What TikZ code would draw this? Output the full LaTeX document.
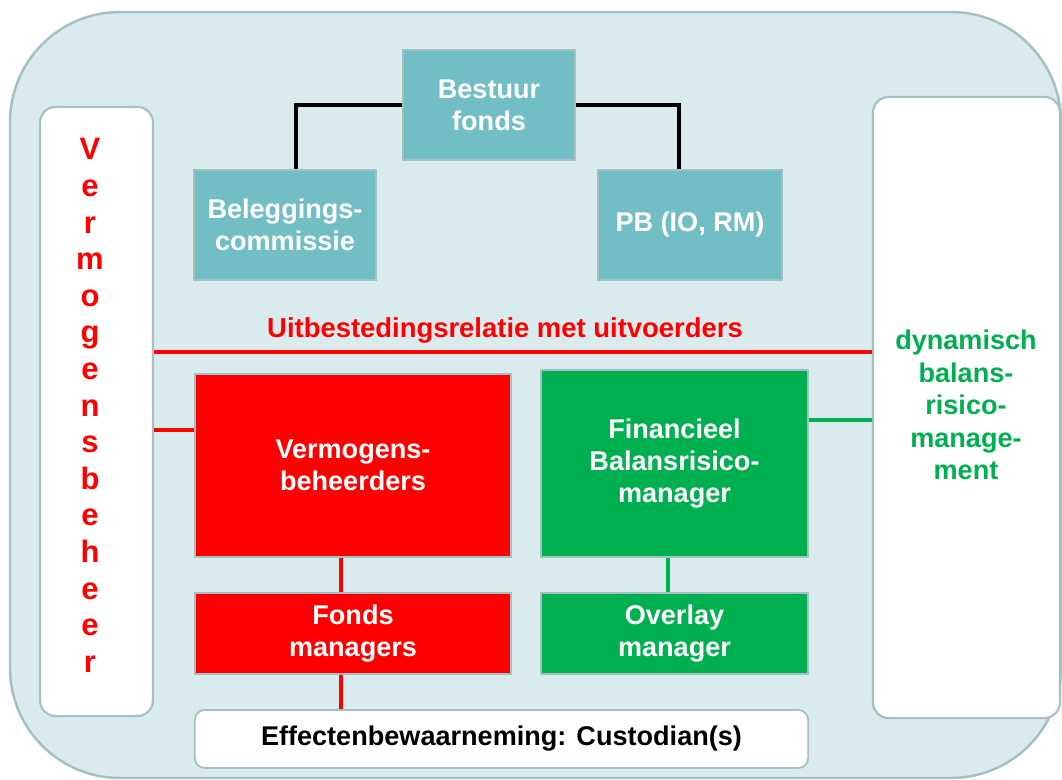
\documentclass[tikz,border=0pt]{standalone}
\usepackage{fontspec}
\setmainfont{Liberation Sans}
\usetikzlibrary{positioning}
\definecolor{bgblue}{HTML}{DAEBEE}
\definecolor{edgegray}{HTML}{A3C0C4}
\definecolor{boxteal}{HTML}{72BEC5}
\definecolor{mgreen}{HTML}{00B050}
\definecolor{mred}{HTML}{FF0000}
\begin{document}
\begin{tikzpicture}[x=0.01cm, y=-0.01cm,
  box/.style={draw=edgegray, line width=0.5pt, text=white, align=center, inner sep=0pt,
    font=\bfseries\fontsize{7.7}{9.1}\selectfont},
  govbox/.style={box, fill=boxteal, minimum height=1.1cm},
  redbox/.style={box, fill=mred, minimum width=3.16cm},
  greenbox/.style={box, fill=mgreen, minimum width=2.67cm},
  sidebox/.style={draw=edgegray, line width=0.6pt, fill=white, rounded corners=1.6mm},
  vletter/.style={text=mred, anchor=base, inner sep=0pt, font=\bfseries\fontsize{8.8}{10}\selectfont},
  govline/.style={line width=1pt, black},
  redline/.style={line width=0.9pt, mred},
  greenline/.style={line width=0.9pt, mgreen}]
\useasboundingbox (0,0) rectangle (1062,780);
\draw[draw=edgegray, line width=0.7pt, fill=bgblue, rounded corners=1.1cm] (10,12) rectangle (1061,778);

% side panels
\node[sidebox, minimum width=1.13cm, minimum height=6.09cm] (lbox) at (96.5,411.5) {};
\node[sidebox, minimum width=1.87cm, minimum height=6.21cm] (rbox) at (966.5,407.5) {};
\foreach \c [count=\i from 0] in {V,e,r,m,o,g,e,n,s,b,e,h,e,e,r}
  \node[vletter] (v\i) at (90,{160+36.6*\i}) {\c};
\node[text=mgreen, align=center, inner sep=0pt, font=\bfseries\fontsize{7.7}{9.2}\selectfont]
  (dbrm) at (966,405) {dynamisch\\balans-\\risico-\\manage-\\ment};

% bestuur
\node[govbox, minimum width=1.72cm] (bestuur) at (489,105) {Bestuur\\fonds};
\node[govbox, minimum width=1.82cm] (beleg) at (285,225) {Beleggings-\\commissie};
\node[govbox, minimum width=1.84cm] (pb) at (690,225) {PB (IO, RM)};
\draw[govline] (bestuur.west) -| ([xshift=1.1mm]beleg.north);
\draw[govline] (bestuur.east) -| ([xshift=-1.1mm]pb.north);

% uitbesteding
\node[text=mred, anchor=base, inner sep=0pt, font=\bfseries\fontsize{7.8}{9}\selectfont]
  (uitb) at (505,338) {Uitbestedingsrelatie met uitvoerders};
\coordinate (rel) at (505,352);
\draw[redline] (lbox.east |- rel) -- (rbox.west |- rel);

% uitvoerders
\node[redbox, minimum height=1.83cm] (verm) at (353,465.5) {Vermogens-\\beheerders};
\node[greenbox, minimum height=1.87cm] (fin) at (674.5,463.5) {Financieel\\Balansrisico-\\manager};
\node[redbox, minimum height=0.81cm] (fonds) at (353,633.5) {Fonds\\managers};
\node[greenbox, minimum height=0.81cm] (overlay) at (674.5,633.5) {Overlay\\manager};
\node[box, fill=white, text=black, rounded corners=1mm, minimum width=6.13cm, minimum height=0.58cm]
  (custody) at (501.5,739) {Effectenbewaarneming: Custodian(s)};

\coordinate (vlink) at ([yshift=3.55mm]verm.west);
\draw[redline] (lbox.east |- vlink) -- (vlink);
\coordinate (flink) at ([yshift=4.35mm]fin.east);
\draw[greenline] (flink) -- (rbox.west |- flink);
\draw[redline] ([xshift=-1.2mm]verm.south) -- ([xshift=-1.2mm]fonds.north);
\coordinate (fbot) at ([xshift=-1.2mm]fonds.south);
\draw[redline] (fbot) -- (fbot |- custody.north);
\draw[greenline] ([xshift=-0.65mm]fin.south) -- ([xshift=-0.65mm]overlay.north);
\end{tikzpicture}
\end{document}
